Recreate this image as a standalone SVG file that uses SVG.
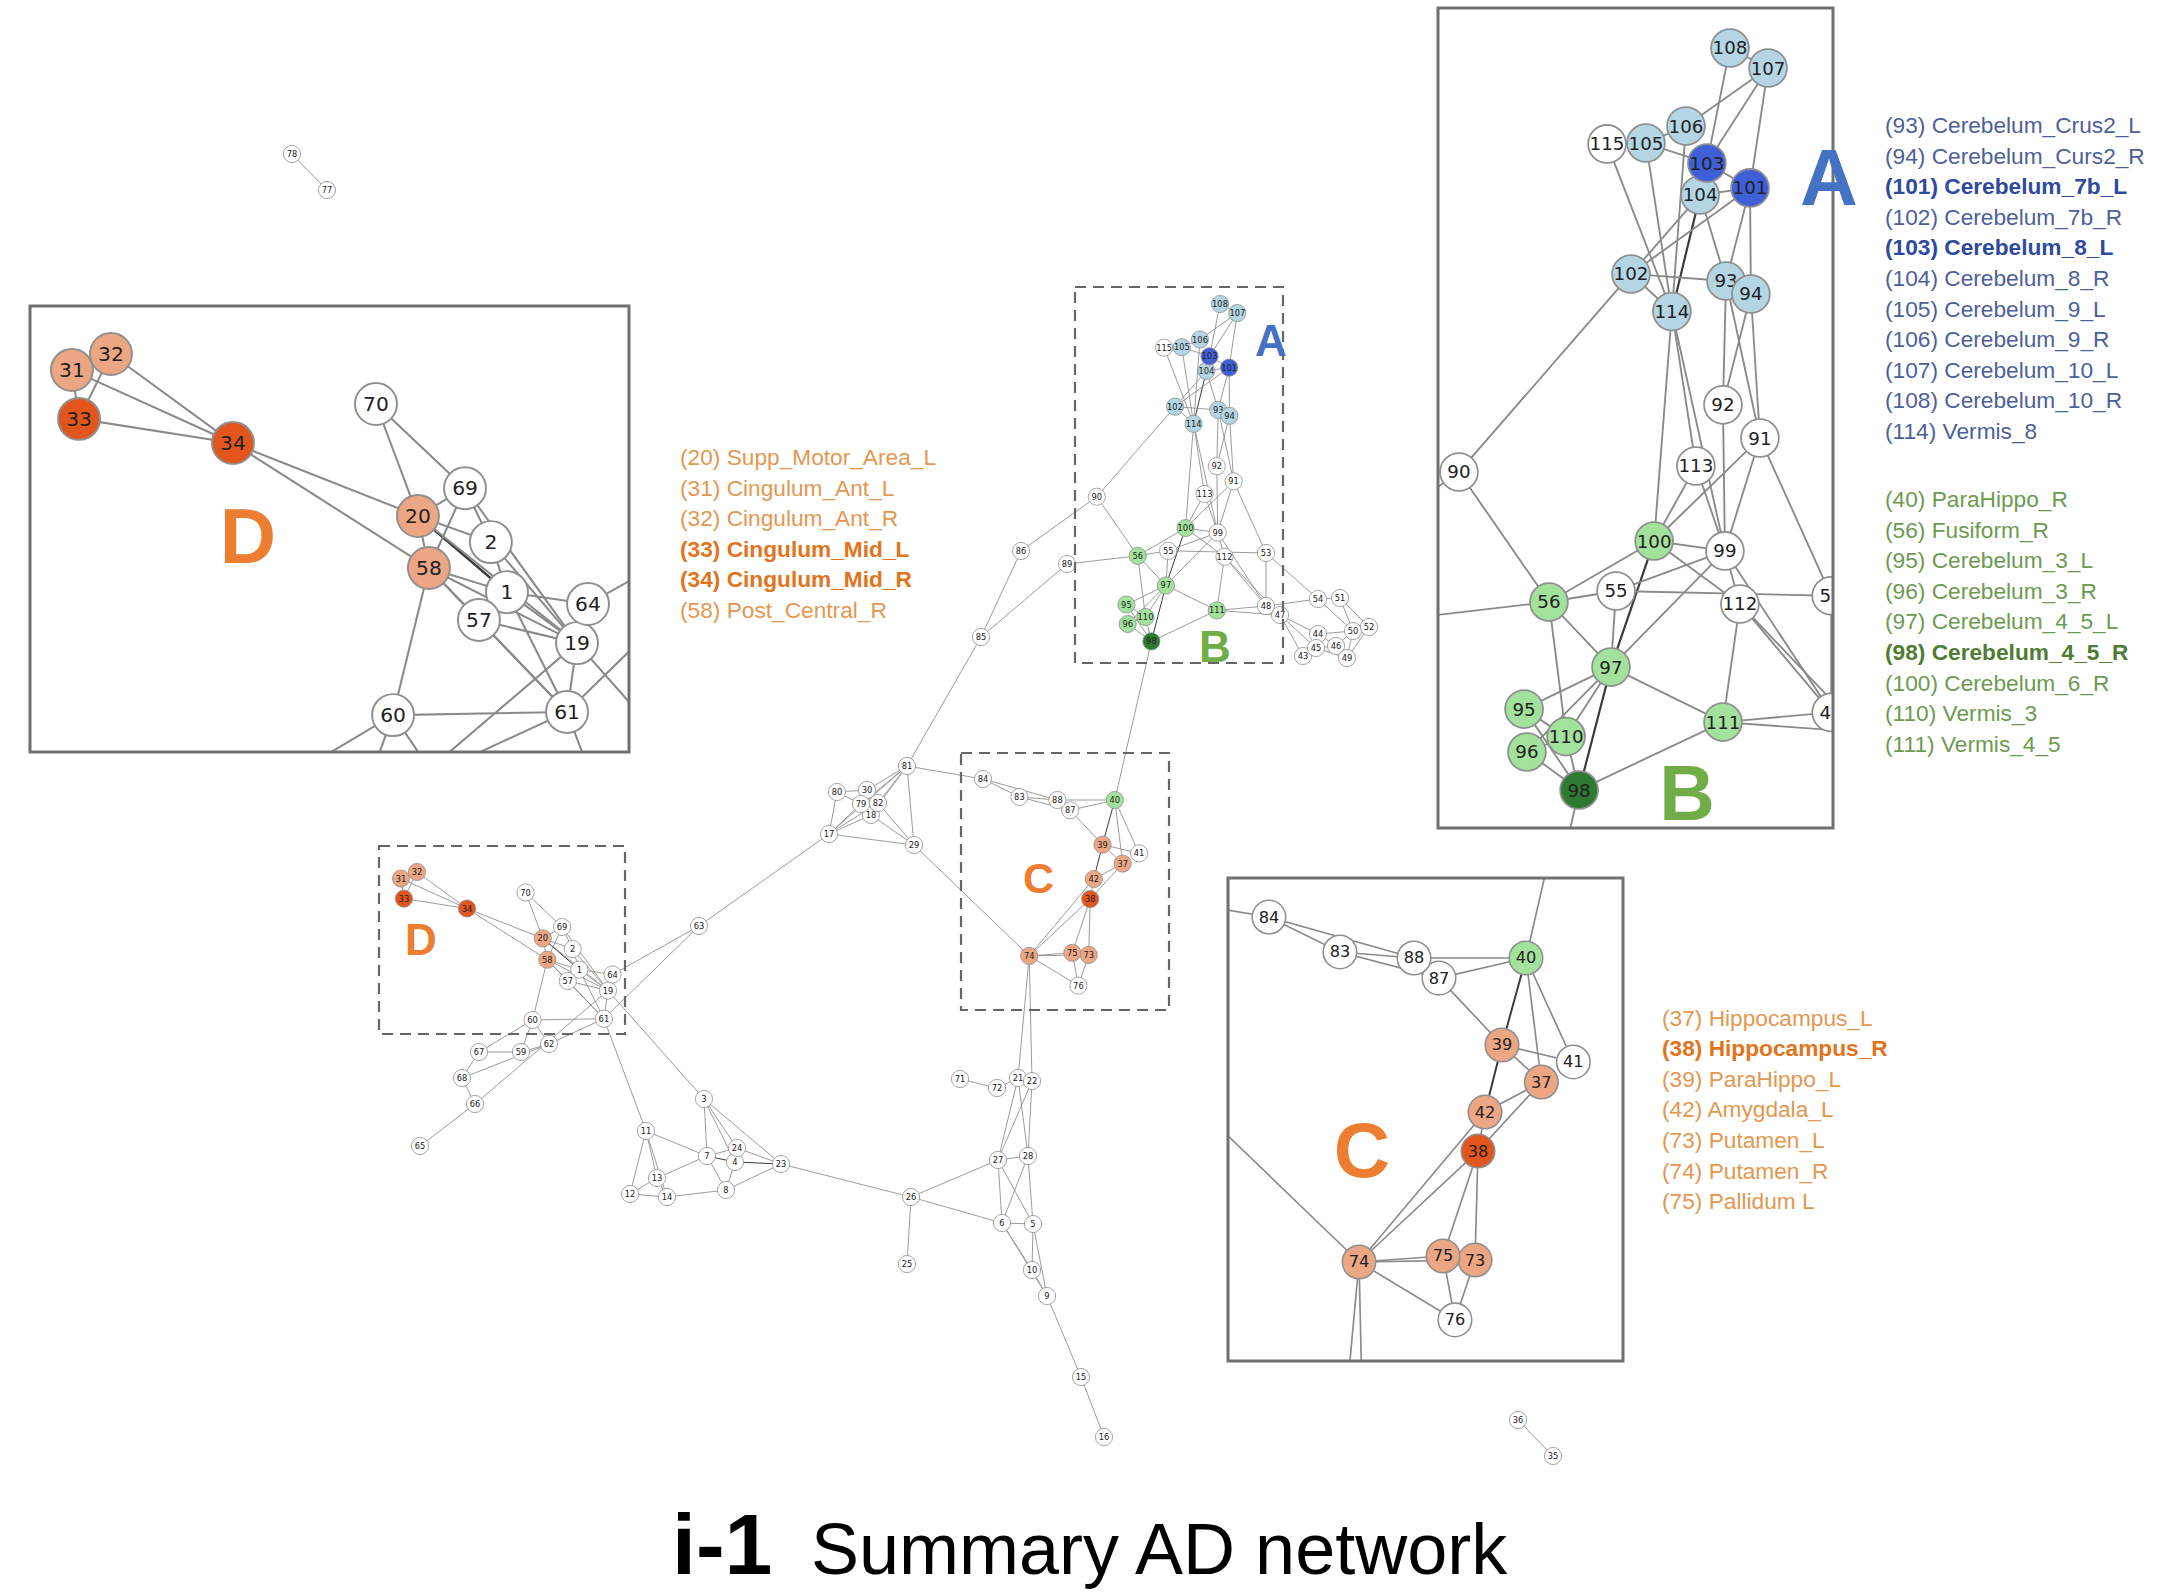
<svg xmlns="http://www.w3.org/2000/svg" xmlns:xlink="http://www.w3.org/1999/xlink" width="2180" height="1594" viewBox="0 0 2180 1594">
<style>
.e line{stroke:#8a8a8a;stroke-width:0.85}
.e line.d{stroke:#3a3a3a;stroke-width:1}
.node circle{stroke:#8f8f8f;stroke-width:0.8}
.node text{font-family:"DejaVu Sans",sans-serif;font-size:8.3px;text-anchor:middle;dominant-baseline:central;fill:#222}
.w{fill:#fff}.lb{fill:#b3d5e4}.b{fill:#3f5fd8}.lg{fill:#a2e29c}.g{fill:#2f7a33}.lo{fill:#eca684}.o{fill:#e2561e}
.dash{fill:none;stroke:#666;stroke-width:2.2;stroke-dasharray:11 7}
.frame{fill:none;stroke:#707070;stroke-width:3}
.big{font-family:"Liberation Sans",Arial,sans-serif;font-weight:bold;text-anchor:middle}
.lst{font-family:"Liberation Sans",Arial,sans-serif;font-size:22.7px}
.ob{fill:#e4974f}.obb{fill:#e2741c;font-weight:bold}
.bl{fill:#4d5f9a}.blb{fill:#2e4a9e;font-weight:bold}
.gl{fill:#6c9a50}.glb{fill:#4d7c32;font-weight:bold}
</style>
<defs>
<clipPath id="cAB"><rect x="1438" y="8" width="395" height="820"/></clipPath>
<clipPath id="cD"><rect x="30" y="306" width="599" height="446"/></clipPath>
<clipPath id="cC"><rect x="1228" y="878" width="395" height="483"/></clipPath>
</defs>
<rect x="0" y="0" width="2180" height="1594" fill="#fff"/>

<g id="network">
<g id="connectors" class="e">
<line x1="1220" y1="304" x2="1237.3" y2="313.1"/>
<line x1="1220" y1="304" x2="1209.5" y2="356.3"/>
<line x1="1237.3" y1="313.1" x2="1200" y2="339.5"/>
<line x1="1237.3" y1="313.1" x2="1209.5" y2="356.3"/>
<line x1="1237.3" y1="313.1" x2="1229.1" y2="367.6"/>
<line x1="1200" y1="339.5" x2="1181.8" y2="347.2"/>
<line x1="1200" y1="339.5" x2="1193.6" y2="423.8"/>
<line x1="1164.1" y1="347.6" x2="1181.8" y2="347.2"/>
<line x1="1164.1" y1="347.6" x2="1193.6" y2="423.8"/>
<line x1="1181.8" y1="347.2" x2="1209.5" y2="356.3"/>
<line x1="1181.8" y1="347.2" x2="1193.6" y2="423.8"/>
<line x1="1209.5" y1="356.3" x2="1206.4" y2="370.8"/>
<line x1="1209.5" y1="356.3" x2="1229.1" y2="367.6"/>
<line x1="1206.4" y1="370.8" x2="1229.1" y2="367.6"/>
<line x1="1206.4" y1="370.8" x2="1175" y2="406.7"/>
<line class="d" x1="1206.4" y1="370.8" x2="1193.6" y2="423.8"/>
<line x1="1206.4" y1="370.8" x2="1218.2" y2="409.9"/>
<line x1="1229.1" y1="367.6" x2="1175" y2="406.7"/>
<line x1="1229.1" y1="367.6" x2="1218.2" y2="409.9"/>
<line x1="1229.1" y1="367.6" x2="1229.5" y2="415.8"/>
<line x1="1175" y1="406.7" x2="1218.2" y2="409.9"/>
<line x1="1175" y1="406.7" x2="1193.6" y2="423.8"/>
<line x1="1175" y1="406.7" x2="1096.8" y2="496.7"/>
<line x1="1218.2" y1="409.9" x2="1229.5" y2="415.8"/>
<line x1="1218.2" y1="409.9" x2="1216.8" y2="466.2"/>
<line x1="1218.2" y1="409.9" x2="1233.6" y2="481.3"/>
<line x1="1229.5" y1="415.8" x2="1216.8" y2="466.2"/>
<line x1="1229.5" y1="415.8" x2="1233.6" y2="481.3"/>
<line x1="1193.6" y1="423.8" x2="1204.5" y2="494"/>
<line x1="1193.6" y1="423.8" x2="1185.5" y2="528.1"/>
<line x1="1193.6" y1="423.8" x2="1217.7" y2="532.6"/>
<line x1="1216.8" y1="466.2" x2="1217.7" y2="532.6"/>
<line x1="1233.6" y1="481.3" x2="1185.5" y2="528.1"/>
<line x1="1233.6" y1="481.3" x2="1217.7" y2="532.6"/>
<line x1="1233.6" y1="481.3" x2="1266" y2="553"/>
<line x1="1204.5" y1="494" x2="1185.5" y2="528.1"/>
<line x1="1204.5" y1="494" x2="1217.7" y2="532.6"/>
<line x1="1185.5" y1="528.1" x2="1217.7" y2="532.6"/>
<line x1="1185.5" y1="528.1" x2="1137.7" y2="555.8"/>
<line class="d" x1="1185.5" y1="528.1" x2="1165.9" y2="585.4"/>
<line x1="1185.5" y1="528.1" x2="1224.5" y2="556.7"/>
<line x1="1217.7" y1="532.6" x2="1168.2" y2="550.8"/>
<line x1="1217.7" y1="532.6" x2="1165.9" y2="585.4"/>
<line x1="1217.7" y1="532.6" x2="1224.5" y2="556.7"/>
<line x1="1217.7" y1="532.6" x2="1266" y2="606"/>
<line x1="1168.2" y1="550.8" x2="1137.7" y2="555.8"/>
<line x1="1168.2" y1="550.8" x2="1165.9" y2="585.4"/>
<line x1="1168.2" y1="550.8" x2="1266" y2="553"/>
<line x1="1137.7" y1="555.8" x2="1165.9" y2="585.4"/>
<line x1="1137.7" y1="555.8" x2="1145.5" y2="617"/>
<line x1="1137.7" y1="555.8" x2="1096.8" y2="496.7"/>
<line x1="1137.7" y1="555.8" x2="1067" y2="564"/>
<line x1="1224.5" y1="556.7" x2="1216.8" y2="610.4"/>
<line x1="1224.5" y1="556.7" x2="1266" y2="606"/>
<line x1="1224.5" y1="556.7" x2="1280" y2="615"/>
<line x1="1165.9" y1="585.4" x2="1126.4" y2="604.5"/>
<line x1="1165.9" y1="585.4" x2="1145.5" y2="617"/>
<line x1="1165.9" y1="585.4" x2="1127.7" y2="624"/>
<line class="d" x1="1165.9" y1="585.4" x2="1151.4" y2="641.3"/>
<line x1="1165.9" y1="585.4" x2="1216.8" y2="610.4"/>
<line x1="1126.4" y1="604.5" x2="1145.5" y2="617"/>
<line x1="1126.4" y1="604.5" x2="1151.4" y2="641.3"/>
<line x1="1127.7" y1="624" x2="1151.4" y2="641.3"/>
<line x1="1145.5" y1="617" x2="1151.4" y2="641.3"/>
<line x1="1127.7" y1="624" x2="1145.5" y2="617"/>
<line x1="1216.8" y1="610.4" x2="1266" y2="606"/>
<line x1="1216.8" y1="610.4" x2="1280" y2="615"/>
<line x1="1216.8" y1="610.4" x2="1151.4" y2="641.3"/>
<line x1="1151.4" y1="641.3" x2="1114.8" y2="800"/>
<line x1="1266" y1="553" x2="1318" y2="599"/>
<line x1="1266" y1="553" x2="1266" y2="606"/>
<line x1="1266" y1="606" x2="1318" y2="599"/>
<line x1="1266" y1="606" x2="1280" y2="615"/>
<line x1="1280" y1="615" x2="1318" y2="634"/>
<line x1="1280" y1="615" x2="1303" y2="656"/>
<line x1="1280" y1="615" x2="1316" y2="648"/>
<line x1="1318" y1="599" x2="1340" y2="598"/>
<line x1="1318" y1="599" x2="1353" y2="631"/>
<line x1="1340" y1="598" x2="1353" y2="631"/>
<line x1="1340" y1="598" x2="1369" y2="627"/>
<line x1="1353" y1="631" x2="1369" y2="627"/>
<line x1="1353" y1="631" x2="1336" y2="646"/>
<line x1="1353" y1="631" x2="1347" y2="658"/>
<line x1="1369" y1="627" x2="1347" y2="658"/>
<line x1="1336" y1="646" x2="1316" y2="648"/>
<line x1="1336" y1="646" x2="1318" y2="634"/>
<line x1="1318" y1="634" x2="1316" y2="648"/>
<line x1="1303" y1="656" x2="1316" y2="648"/>
<line x1="1316" y1="648" x2="1347" y2="658"/>
<line x1="1318" y1="634" x2="1353" y2="631"/>
<line x1="1067" y1="564" x2="981" y2="637"/>
<line x1="1021" y1="551" x2="981" y2="637"/>
<line x1="1021" y1="551" x2="1096.8" y2="496.7"/>
<line x1="981" y1="637" x2="907" y2="766"/>
<line x1="907" y1="766" x2="983" y2="779"/>
<line x1="907" y1="766" x2="914" y2="845"/>
<line x1="907" y1="766" x2="867" y2="790"/>
<line x1="907" y1="766" x2="861" y2="804"/>
<line x1="907" y1="766" x2="878" y2="803"/>
<line x1="907" y1="766" x2="871" y2="815"/>
<line x1="907" y1="766" x2="829" y2="834"/>
<line x1="837" y1="792" x2="867" y2="790"/>
<line x1="837" y1="792" x2="829" y2="834"/>
<line x1="837" y1="792" x2="861" y2="804"/>
<line x1="867" y1="790" x2="878" y2="803"/>
<line x1="867" y1="790" x2="861" y2="804"/>
<line x1="861" y1="804" x2="878" y2="803"/>
<line x1="861" y1="804" x2="871" y2="815"/>
<line x1="861" y1="804" x2="829" y2="834"/>
<line x1="878" y1="803" x2="871" y2="815"/>
<line x1="878" y1="803" x2="914" y2="845"/>
<line x1="878" y1="803" x2="829" y2="834"/>
<line x1="871" y1="815" x2="914" y2="845"/>
<line x1="871" y1="815" x2="829" y2="834"/>
<line x1="829" y1="834" x2="914" y2="845"/>
<line x1="829" y1="834" x2="699" y2="926"/>
<line x1="914" y1="845" x2="1029.2" y2="955.9"/>
<line x1="983" y1="779" x2="1019.4" y2="796.9"/>
<line x1="983" y1="779" x2="1057.4" y2="800"/>
<line x1="1019.4" y1="796.9" x2="1057.4" y2="800"/>
<line x1="1019.4" y1="796.9" x2="1070.2" y2="810.3"/>
<line x1="1057.4" y1="800" x2="1114.8" y2="800"/>
<line x1="1070.2" y1="810.3" x2="1114.8" y2="800"/>
<line x1="1070.2" y1="810.3" x2="1102.5" y2="844.6"/>
<line class="d" x1="1114.8" y1="800" x2="1102.5" y2="844.6"/>
<line x1="1114.8" y1="800" x2="1122.7" y2="863.6"/>
<line x1="1114.8" y1="800" x2="1139.1" y2="853.3"/>
<line x1="1102.5" y1="844.6" x2="1139.1" y2="853.3"/>
<line x1="1102.5" y1="844.6" x2="1122.7" y2="863.6"/>
<line class="d" x1="1102.5" y1="844.6" x2="1093.8" y2="879"/>
<line x1="1093.8" y1="879" x2="1122.7" y2="863.6"/>
<line x1="1122.7" y1="863.6" x2="1090.2" y2="899"/>
<line x1="1093.8" y1="879" x2="1090.2" y2="899"/>
<line x1="1090.2" y1="899" x2="1029.2" y2="955.9"/>
<line x1="1093.8" y1="879" x2="1029.2" y2="955.9"/>
<line x1="1090.2" y1="899" x2="1072.3" y2="952.8"/>
<line x1="1090.2" y1="899" x2="1088.7" y2="954.9"/>
<line x1="1029.2" y1="955.9" x2="1072.3" y2="952.8"/>
<line x1="1029.2" y1="955.9" x2="1088.7" y2="954.9"/>
<line x1="1029.2" y1="955.9" x2="1078.4" y2="985.6"/>
<line x1="1072.3" y1="952.8" x2="1078.4" y2="985.6"/>
<line x1="1088.7" y1="954.9" x2="1078.4" y2="985.6"/>
<line x1="1029.2" y1="955.9" x2="1018" y2="1078"/>
<line x1="1029.2" y1="955.9" x2="1032" y2="1081"/>
<line x1="401" y1="878.6" x2="417" y2="872"/>
<line x1="401" y1="878.6" x2="403.9" y2="898.6"/>
<line x1="417" y1="872" x2="403.9" y2="898.6"/>
<line x1="401" y1="878.6" x2="467" y2="908.5"/>
<line x1="417" y1="872" x2="467" y2="908.5"/>
<line x1="403.9" y1="898.6" x2="467" y2="908.5"/>
<line x1="467" y1="908.5" x2="542.8" y2="938.4"/>
<line x1="467" y1="908.5" x2="547.3" y2="959.7"/>
<line x1="525.6" y1="892.5" x2="542.8" y2="938.4"/>
<line x1="525.6" y1="892.5" x2="562.1" y2="927"/>
<line x1="542.8" y1="938.4" x2="562.1" y2="927"/>
<line x1="542.8" y1="938.4" x2="572.7" y2="949.1"/>
<line x1="542.8" y1="938.4" x2="547.3" y2="959.7"/>
<line class="d" x1="542.8" y1="938.4" x2="579.3" y2="969.6"/>
<line x1="542.8" y1="938.4" x2="608" y2="990.5"/>
<line x1="562.1" y1="927" x2="547.3" y2="959.7"/>
<line x1="562.1" y1="927" x2="572.7" y2="949.1"/>
<line x1="562.1" y1="927" x2="608" y2="990.5"/>
<line x1="572.7" y1="949.1" x2="579.3" y2="969.6"/>
<line x1="572.7" y1="949.1" x2="608" y2="990.5"/>
<line x1="547.3" y1="959.7" x2="579.3" y2="969.6"/>
<line x1="547.3" y1="959.7" x2="567.8" y2="981"/>
<line x1="547.3" y1="959.7" x2="608" y2="990.5"/>
<line x1="547.3" y1="959.7" x2="532.6" y2="1020"/>
<line x1="547.3" y1="959.7" x2="603.9" y2="1018.7"/>
<line x1="579.3" y1="969.6" x2="567.8" y2="981"/>
<line x1="579.3" y1="969.6" x2="612.5" y2="974.5"/>
<line x1="579.3" y1="969.6" x2="608" y2="990.5"/>
<line x1="579.3" y1="969.6" x2="603.9" y2="1018.7"/>
<line x1="567.8" y1="981" x2="608" y2="990.5"/>
<line x1="567.8" y1="981" x2="603.9" y2="1018.7"/>
<line x1="608" y1="990.5" x2="603.9" y2="1018.7"/>
<line x1="532.6" y1="1020" x2="603.9" y2="1018.7"/>
<line x1="612.5" y1="974.5" x2="699" y2="926"/>
<line x1="603.9" y1="1018.7" x2="699" y2="926"/>
<line x1="608" y1="990.5" x2="704" y2="1099"/>
<line x1="603.9" y1="1018.7" x2="646" y2="1131"/>
<line x1="603.9" y1="1018.7" x2="549" y2="1044"/>
<line x1="608" y1="990.5" x2="475" y2="1104"/>
<line x1="532.6" y1="1020" x2="479" y2="1052"/>
<line x1="532.6" y1="1020" x2="521" y2="1052"/>
<line x1="532.6" y1="1020" x2="549" y2="1044"/>
<line x1="479" y1="1052" x2="521" y2="1052"/>
<line x1="479" y1="1052" x2="462" y2="1078"/>
<line x1="462" y1="1078" x2="475" y2="1104"/>
<line x1="475" y1="1104" x2="420" y2="1146"/>
<line x1="521" y1="1052" x2="549" y2="1044"/>
<line x1="462" y1="1078" x2="549" y2="1044"/>
<line x1="646" y1="1131" x2="630" y2="1194"/>
<line x1="646" y1="1131" x2="657" y2="1178"/>
<line x1="646" y1="1131" x2="667" y2="1197"/>
<line x1="646" y1="1131" x2="707" y2="1156"/>
<line x1="630" y1="1194" x2="657" y2="1178"/>
<line x1="630" y1="1194" x2="667" y2="1197"/>
<line x1="657" y1="1178" x2="667" y2="1197"/>
<line x1="657" y1="1178" x2="707" y2="1156"/>
<line x1="667" y1="1197" x2="726" y2="1190"/>
<line x1="704" y1="1099" x2="707" y2="1156"/>
<line x1="704" y1="1099" x2="737" y2="1148"/>
<line x1="704" y1="1099" x2="735" y2="1162"/>
<line x1="704" y1="1099" x2="781" y2="1164"/>
<line class="d" x1="707" y1="1156" x2="735" y2="1162"/>
<line x1="707" y1="1156" x2="737" y2="1148"/>
<line x1="707" y1="1156" x2="726" y2="1190"/>
<line x1="735" y1="1162" x2="737" y2="1148"/>
<line class="d" x1="735" y1="1162" x2="781" y2="1164"/>
<line x1="735" y1="1162" x2="726" y2="1190"/>
<line x1="737" y1="1148" x2="781" y2="1164"/>
<line x1="726" y1="1190" x2="781" y2="1164"/>
<line x1="781" y1="1164" x2="911" y2="1197"/>
<line x1="960" y1="1079" x2="997" y2="1088"/>
<line x1="997" y1="1088" x2="1018" y2="1078"/>
<line x1="1018" y1="1078" x2="1032" y2="1081"/>
<line x1="1018" y1="1078" x2="998" y2="1160"/>
<line x1="1032" y1="1081" x2="998" y2="1160"/>
<line x1="1018" y1="1078" x2="1028" y2="1156"/>
<line x1="1032" y1="1081" x2="1028" y2="1156"/>
<line x1="998" y1="1160" x2="1028" y2="1156"/>
<line x1="998" y1="1160" x2="911" y2="1197"/>
<line x1="998" y1="1160" x2="1002" y2="1223"/>
<line x1="998" y1="1160" x2="1033" y2="1224"/>
<line x1="1028" y1="1156" x2="1002" y2="1223"/>
<line x1="1028" y1="1156" x2="1033" y2="1224"/>
<line x1="911" y1="1197" x2="1002" y2="1223"/>
<line x1="911" y1="1197" x2="907" y2="1264"/>
<line x1="1002" y1="1223" x2="1033" y2="1224"/>
<line x1="1002" y1="1223" x2="1032" y2="1270"/>
<line x1="1002" y1="1223" x2="1047" y2="1296"/>
<line x1="1033" y1="1224" x2="1032" y2="1270"/>
<line x1="1033" y1="1224" x2="1047" y2="1296"/>
<line x1="1032" y1="1270" x2="1047" y2="1296"/>
<line x1="1047" y1="1296" x2="1081" y2="1377"/>
<line x1="1081" y1="1377" x2="1104" y2="1437"/>
<line x1="292" y1="154" x2="327" y2="190"/>
<line x1="1518" y1="1420" x2="1553" y2="1456"/>
</g>
<g id="nodes">
<g id="n1" class="node"><circle class="w" cx="579.3" cy="969.6" r="8.6"/><text x="579.3" y="969.6">1</text></g>
<g id="n2" class="node"><circle class="w" cx="572.7" cy="949.1" r="8.6"/><text x="572.7" y="949.1">2</text></g>
<g id="n3" class="node"><circle class="w" cx="704" cy="1099" r="8.6"/><text x="704" y="1099">3</text></g>
<g id="n4" class="node"><circle class="w" cx="735" cy="1162" r="8.6"/><text x="735" y="1162">4</text></g>
<g id="n5" class="node"><circle class="w" cx="1033" cy="1224" r="8.6"/><text x="1033" y="1224">5</text></g>
<g id="n6" class="node"><circle class="w" cx="1002" cy="1223" r="8.6"/><text x="1002" y="1223">6</text></g>
<g id="n7" class="node"><circle class="w" cx="707" cy="1156" r="8.6"/><text x="707" y="1156">7</text></g>
<g id="n8" class="node"><circle class="w" cx="726" cy="1190" r="8.6"/><text x="726" y="1190">8</text></g>
<g id="n9" class="node"><circle class="w" cx="1047" cy="1296" r="8.6"/><text x="1047" y="1296">9</text></g>
<g id="n10" class="node"><circle class="w" cx="1032" cy="1270" r="8.6"/><text x="1032" y="1270">10</text></g>
<g id="n11" class="node"><circle class="w" cx="646" cy="1131" r="8.6"/><text x="646" y="1131">11</text></g>
<g id="n12" class="node"><circle class="w" cx="630" cy="1194" r="8.6"/><text x="630" y="1194">12</text></g>
<g id="n13" class="node"><circle class="w" cx="657" cy="1178" r="8.6"/><text x="657" y="1178">13</text></g>
<g id="n14" class="node"><circle class="w" cx="667" cy="1197" r="8.6"/><text x="667" y="1197">14</text></g>
<g id="n15" class="node"><circle class="w" cx="1081" cy="1377" r="8.6"/><text x="1081" y="1377">15</text></g>
<g id="n16" class="node"><circle class="w" cx="1104" cy="1437" r="8.6"/><text x="1104" y="1437">16</text></g>
<g id="n17" class="node"><circle class="w" cx="829" cy="834" r="8.6"/><text x="829" y="834">17</text></g>
<g id="n18" class="node"><circle class="w" cx="871" cy="815" r="8.6"/><text x="871" y="815">18</text></g>
<g id="n19" class="node"><circle class="w" cx="608" cy="990.5" r="8.6"/><text x="608" y="990.5">19</text></g>
<g id="n20" class="node"><circle class="lo" cx="542.8" cy="938.4" r="8.6"/><text x="542.8" y="938.4">20</text></g>
<g id="n21" class="node"><circle class="w" cx="1018" cy="1078" r="8.6"/><text x="1018" y="1078">21</text></g>
<g id="n22" class="node"><circle class="w" cx="1032" cy="1081" r="8.6"/><text x="1032" y="1081">22</text></g>
<g id="n23" class="node"><circle class="w" cx="781" cy="1164" r="8.6"/><text x="781" y="1164">23</text></g>
<g id="n24" class="node"><circle class="w" cx="737" cy="1148" r="8.6"/><text x="737" y="1148">24</text></g>
<g id="n25" class="node"><circle class="w" cx="907" cy="1264" r="8.6"/><text x="907" y="1264">25</text></g>
<g id="n26" class="node"><circle class="w" cx="911" cy="1197" r="8.6"/><text x="911" y="1197">26</text></g>
<g id="n27" class="node"><circle class="w" cx="998" cy="1160" r="8.6"/><text x="998" y="1160">27</text></g>
<g id="n28" class="node"><circle class="w" cx="1028" cy="1156" r="8.6"/><text x="1028" y="1156">28</text></g>
<g id="n29" class="node"><circle class="w" cx="914" cy="845" r="8.6"/><text x="914" y="845">29</text></g>
<g id="n30" class="node"><circle class="w" cx="867" cy="790" r="8.6"/><text x="867" y="790">30</text></g>
<g id="n31" class="node"><circle class="lo" cx="401" cy="878.6" r="8.6"/><text x="401" y="878.6">31</text></g>
<g id="n32" class="node"><circle class="lo" cx="417" cy="872" r="8.6"/><text x="417" y="872">32</text></g>
<g id="n33" class="node"><circle class="o" cx="403.9" cy="898.6" r="8.6"/><text x="403.9" y="898.6">33</text></g>
<g id="n34" class="node"><circle class="o" cx="467" cy="908.5" r="8.6"/><text x="467" y="908.5">34</text></g>
<g id="n35" class="node"><circle class="w" cx="1553" cy="1456" r="8.6"/><text x="1553" y="1456">35</text></g>
<g id="n36" class="node"><circle class="w" cx="1518" cy="1420" r="8.6"/><text x="1518" y="1420">36</text></g>
<g id="n37" class="node"><circle class="lo" cx="1122.7" cy="863.6" r="8.6"/><text x="1122.7" y="863.6">37</text></g>
<g id="n38" class="node"><circle class="o" cx="1090.2" cy="899" r="8.6"/><text x="1090.2" y="899">38</text></g>
<g id="n39" class="node"><circle class="lo" cx="1102.5" cy="844.6" r="8.6"/><text x="1102.5" y="844.6">39</text></g>
<g id="n40" class="node"><circle class="lg" cx="1114.8" cy="800" r="8.6"/><text x="1114.8" y="800">40</text></g>
<g id="n41" class="node"><circle class="w" cx="1139.1" cy="853.3" r="8.6"/><text x="1139.1" y="853.3">41</text></g>
<g id="n42" class="node"><circle class="lo" cx="1093.8" cy="879" r="8.6"/><text x="1093.8" y="879">42</text></g>
<g id="n43" class="node"><circle class="w" cx="1303" cy="656" r="8.6"/><text x="1303" y="656">43</text></g>
<g id="n44" class="node"><circle class="w" cx="1318" cy="634" r="8.6"/><text x="1318" y="634">44</text></g>
<g id="n45" class="node"><circle class="w" cx="1316" cy="648" r="8.6"/><text x="1316" y="648">45</text></g>
<g id="n46" class="node"><circle class="w" cx="1336" cy="646" r="8.6"/><text x="1336" y="646">46</text></g>
<g id="n47" class="node"><circle class="w" cx="1280" cy="615" r="8.6"/><text x="1280" y="615">47</text></g>
<g id="n48" class="node"><circle class="w" cx="1266" cy="606" r="8.6"/><text x="1266" y="606">48</text></g>
<g id="n49" class="node"><circle class="w" cx="1347" cy="658" r="8.6"/><text x="1347" y="658">49</text></g>
<g id="n50" class="node"><circle class="w" cx="1353" cy="631" r="8.6"/><text x="1353" y="631">50</text></g>
<g id="n51" class="node"><circle class="w" cx="1340" cy="598" r="8.6"/><text x="1340" y="598">51</text></g>
<g id="n52" class="node"><circle class="w" cx="1369" cy="627" r="8.6"/><text x="1369" y="627">52</text></g>
<g id="n53" class="node"><circle class="w" cx="1266" cy="553" r="8.6"/><text x="1266" y="553">53</text></g>
<g id="n54" class="node"><circle class="w" cx="1318" cy="599" r="8.6"/><text x="1318" y="599">54</text></g>
<g id="n55" class="node"><circle class="w" cx="1168.2" cy="550.8" r="8.6"/><text x="1168.2" y="550.8">55</text></g>
<g id="n56" class="node"><circle class="lg" cx="1137.7" cy="555.8" r="8.6"/><text x="1137.7" y="555.8">56</text></g>
<g id="n57" class="node"><circle class="w" cx="567.8" cy="981" r="8.6"/><text x="567.8" y="981">57</text></g>
<g id="n58" class="node"><circle class="lo" cx="547.3" cy="959.7" r="8.6"/><text x="547.3" y="959.7">58</text></g>
<g id="n59" class="node"><circle class="w" cx="521" cy="1052" r="8.6"/><text x="521" y="1052">59</text></g>
<g id="n60" class="node"><circle class="w" cx="532.6" cy="1020" r="8.6"/><text x="532.6" y="1020">60</text></g>
<g id="n61" class="node"><circle class="w" cx="603.9" cy="1018.7" r="8.6"/><text x="603.9" y="1018.7">61</text></g>
<g id="n62" class="node"><circle class="w" cx="549" cy="1044" r="8.6"/><text x="549" y="1044">62</text></g>
<g id="n63" class="node"><circle class="w" cx="699" cy="926" r="8.6"/><text x="699" y="926">63</text></g>
<g id="n64" class="node"><circle class="w" cx="612.5" cy="974.5" r="8.6"/><text x="612.5" y="974.5">64</text></g>
<g id="n65" class="node"><circle class="w" cx="420" cy="1146" r="8.6"/><text x="420" y="1146">65</text></g>
<g id="n66" class="node"><circle class="w" cx="475" cy="1104" r="8.6"/><text x="475" y="1104">66</text></g>
<g id="n67" class="node"><circle class="w" cx="479" cy="1052" r="8.6"/><text x="479" y="1052">67</text></g>
<g id="n68" class="node"><circle class="w" cx="462" cy="1078" r="8.6"/><text x="462" y="1078">68</text></g>
<g id="n69" class="node"><circle class="w" cx="562.1" cy="927" r="8.6"/><text x="562.1" y="927">69</text></g>
<g id="n70" class="node"><circle class="w" cx="525.6" cy="892.5" r="8.6"/><text x="525.6" y="892.5">70</text></g>
<g id="n71" class="node"><circle class="w" cx="960" cy="1079" r="8.6"/><text x="960" y="1079">71</text></g>
<g id="n72" class="node"><circle class="w" cx="997" cy="1088" r="8.6"/><text x="997" y="1088">72</text></g>
<g id="n73" class="node"><circle class="lo" cx="1088.7" cy="954.9" r="8.6"/><text x="1088.7" y="954.9">73</text></g>
<g id="n74" class="node"><circle class="lo" cx="1029.2" cy="955.9" r="8.6"/><text x="1029.2" y="955.9">74</text></g>
<g id="n75" class="node"><circle class="lo" cx="1072.3" cy="952.8" r="8.6"/><text x="1072.3" y="952.8">75</text></g>
<g id="n76" class="node"><circle class="w" cx="1078.4" cy="985.6" r="8.6"/><text x="1078.4" y="985.6">76</text></g>
<g id="n77" class="node"><circle class="w" cx="327" cy="190" r="8.6"/><text x="327" y="190">77</text></g>
<g id="n78" class="node"><circle class="w" cx="292" cy="154" r="8.6"/><text x="292" y="154">78</text></g>
<g id="n79" class="node"><circle class="w" cx="861" cy="804" r="8.6"/><text x="861" y="804">79</text></g>
<g id="n80" class="node"><circle class="w" cx="837" cy="792" r="8.6"/><text x="837" y="792">80</text></g>
<g id="n81" class="node"><circle class="w" cx="907" cy="766" r="8.6"/><text x="907" y="766">81</text></g>
<g id="n82" class="node"><circle class="w" cx="878" cy="803" r="8.6"/><text x="878" y="803">82</text></g>
<g id="n83" class="node"><circle class="w" cx="1019.4" cy="796.9" r="8.6"/><text x="1019.4" y="796.9">83</text></g>
<g id="n84" class="node"><circle class="w" cx="983" cy="779" r="8.6"/><text x="983" y="779">84</text></g>
<g id="n85" class="node"><circle class="w" cx="981" cy="637" r="8.6"/><text x="981" y="637">85</text></g>
<g id="n86" class="node"><circle class="w" cx="1021" cy="551" r="8.6"/><text x="1021" y="551">86</text></g>
<g id="n87" class="node"><circle class="w" cx="1070.2" cy="810.3" r="8.6"/><text x="1070.2" y="810.3">87</text></g>
<g id="n88" class="node"><circle class="w" cx="1057.4" cy="800" r="8.6"/><text x="1057.4" y="800">88</text></g>
<g id="n89" class="node"><circle class="w" cx="1067" cy="564" r="8.6"/><text x="1067" y="564">89</text></g>
<g id="n90" class="node"><circle class="w" cx="1096.8" cy="496.7" r="8.6"/><text x="1096.8" y="496.7">90</text></g>
<g id="n91" class="node"><circle class="w" cx="1233.6" cy="481.3" r="8.6"/><text x="1233.6" y="481.3">91</text></g>
<g id="n92" class="node"><circle class="w" cx="1216.8" cy="466.2" r="8.6"/><text x="1216.8" y="466.2">92</text></g>
<g id="n93" class="node"><circle class="lb" cx="1218.2" cy="409.9" r="8.6"/><text x="1218.2" y="409.9">93</text></g>
<g id="n94" class="node"><circle class="lb" cx="1229.5" cy="415.8" r="8.6"/><text x="1229.5" y="415.8">94</text></g>
<g id="n95" class="node"><circle class="lg" cx="1126.4" cy="604.5" r="8.6"/><text x="1126.4" y="604.5">95</text></g>
<g id="n96" class="node"><circle class="lg" cx="1127.7" cy="624" r="8.6"/><text x="1127.7" y="624">96</text></g>
<g id="n97" class="node"><circle class="lg" cx="1165.9" cy="585.4" r="8.6"/><text x="1165.9" y="585.4">97</text></g>
<g id="n98" class="node"><circle class="g" cx="1151.4" cy="641.3" r="8.6"/><text x="1151.4" y="641.3">98</text></g>
<g id="n99" class="node"><circle class="w" cx="1217.7" cy="532.6" r="8.6"/><text x="1217.7" y="532.6">99</text></g>
<g id="n100" class="node"><circle class="lg" cx="1185.5" cy="528.1" r="8.6"/><text x="1185.5" y="528.1">100</text></g>
<g id="n102" class="node"><circle class="lb" cx="1175" cy="406.7" r="8.6"/><text x="1175" y="406.7">102</text></g>
<g id="n105" class="node"><circle class="lb" cx="1181.8" cy="347.2" r="8.6"/><text x="1181.8" y="347.2">105</text></g>
<g id="n115" class="node"><circle class="w" cx="1164.1" cy="347.6" r="8.6"/><text x="1164.1" y="347.6">115</text></g>
<g id="n106" class="node"><circle class="lb" cx="1200" cy="339.5" r="8.6"/><text x="1200" y="339.5">106</text></g>
<g id="n108" class="node"><circle class="lb" cx="1220" cy="304" r="8.6"/><text x="1220" y="304">108</text></g>
<g id="n107" class="node"><circle class="lb" cx="1237.3" cy="313.1" r="8.6"/><text x="1237.3" y="313.1">107</text></g>
<g id="n104" class="node"><circle class="lb" cx="1206.4" cy="370.8" r="8.6"/><text x="1206.4" y="370.8">104</text></g>
<g id="n103" class="node"><circle class="b" cx="1209.5" cy="356.3" r="8.6"/><text x="1209.5" y="356.3">103</text></g>
<g id="n101" class="node"><circle class="b" cx="1229.1" cy="367.6" r="8.6"/><text x="1229.1" y="367.6">101</text></g>
<g id="n110" class="node"><circle class="lg" cx="1145.5" cy="617" r="8.6"/><text x="1145.5" y="617">110</text></g>
<g id="n111" class="node"><circle class="lg" cx="1216.8" cy="610.4" r="8.6"/><text x="1216.8" y="610.4">111</text></g>
<g id="n112" class="node"><circle class="w" cx="1224.5" cy="556.7" r="8.6"/><text x="1224.5" y="556.7">112</text></g>
<g id="n113" class="node"><circle class="w" cx="1204.5" cy="494" r="8.6"/><text x="1204.5" y="494">113</text></g>
<g id="n114" class="node"><circle class="lb" cx="1193.6" cy="423.8" r="8.6"/><text x="1193.6" y="423.8">114</text></g>
</g>
</g>

<g id="dashed-boxes">
<rect class="dash" x="1075" y="287" width="208" height="376"/>
<rect class="dash" x="961" y="753" width="208" height="257"/>
<rect class="dash" x="379" y="846" width="246" height="188"/>
</g>
<g id="main-labels">
<text class="big" x="1271" y="356" font-size="44" fill="#4472c4">A</text>
<text class="big" x="1215" y="662" font-size="44" fill="#70ad47">B</text>
<text class="big" x="1038.5" y="893" font-size="43" fill="#ed7d31">C</text>
<text class="big" x="421" y="955" font-size="44" fill="#ed7d31">D</text>
</g>

<g id="inset-AB">
<rect x="1438" y="8" width="395" height="820" fill="#fff"/>
<g clip-path="url(#cAB)"><use xlink:href="#network" href="#network" transform="matrix(2.2 0 0 2.2 -954 -620.8)"/></g>
<rect class="frame" x="1438" y="8" width="395" height="820"/>
<text class="big" x="1829" y="205" font-size="80" fill="#4472c4">A</text>
<text class="big" x="1687" y="820" font-size="77" fill="#70ad47">B</text>
</g>
<g id="inset-D">
<rect x="30" y="306" width="599" height="446" fill="#fff"/>
<g clip-path="url(#cD)"><use xlink:href="#network" href="#network" transform="matrix(2.44 0 0 2.44 -906.5 -1773.7)"/></g>
<rect class="frame" x="30" y="306" width="599" height="446"/>
<text class="big" x="248" y="563" font-size="78" fill="#ed7d31">D</text>
</g>
<g id="inset-C">
<rect x="1228" y="878" width="395" height="483" fill="#fff"/>
<g clip-path="url(#cC)"><use xlink:href="#network" href="#network" transform="matrix(1.95 0 0 1.95 -647.9 -602)"/></g>
<rect class="frame" x="1228" y="878" width="395" height="483"/>
<text class="big" x="1362" y="1177" font-size="78" fill="#ed7d31">C</text>
</g>

<g id="legend-D" class="lst">
<text class="ob" x="680" y="465">(20) Supp_Motor_Area_L</text>
<text class="ob" x="680" y="496">(31) Cingulum_Ant_L</text>
<text class="ob" x="680" y="526">(32) Cingulum_Ant_R</text>
<text class="obb" x="680" y="557">(33) Cingulum_Mid_L</text>
<text class="obb" x="680" y="587">(34) Cingulum_Mid_R</text>
<text class="ob" x="680" y="618">(58) Post_Central_R</text>
</g>
<g id="legend-A" class="lst">
<text class="bl" x="1885" y="133">(93) Cerebelum_Crus2_L</text>
<text class="bl" x="1885" y="164">(94) Cerebelum_Curs2_R</text>
<text class="blb" x="1885" y="194">(101) Cerebelum_7b_L</text>
<text class="bl" x="1885" y="225">(102) Cerebelum_7b_R</text>
<text class="blb" x="1885" y="255">(103) Cerebelum_8_L</text>
<text class="bl" x="1885" y="286">(104) Cerebelum_8_R</text>
<text class="bl" x="1885" y="317">(105) Cerebelum_9_L</text>
<text class="bl" x="1885" y="347">(106) Cerebelum_9_R</text>
<text class="bl" x="1885" y="378">(107) Cerebelum_10_L</text>
<text class="bl" x="1885" y="408">(108) Cerebelum_10_R</text>
<text class="bl" x="1885" y="439">(114) Vermis_8</text>
</g>
<g id="legend-B" class="lst">
<text class="gl" x="1885" y="507">(40) ParaHippo_R</text>
<text class="gl" x="1885" y="538">(56) Fusiform_R</text>
<text class="gl" x="1885" y="568">(95) Cerebelum_3_L</text>
<text class="gl" x="1885" y="599">(96) Cerebelum_3_R</text>
<text class="gl" x="1885" y="629">(97) Cerebelum_4_5_L</text>
<text class="glb" x="1885" y="660">(98) Cerebelum_4_5_R</text>
<text class="gl" x="1885" y="691">(100) Cerebelum_6_R</text>
<text class="gl" x="1885" y="721">(110) Vermis_3</text>
<text class="gl" x="1885" y="752">(111) Vermis_4_5</text>
</g>
<g id="legend-C" class="lst">
<text class="ob" x="1662" y="1026">(37) Hippocampus_L</text>
<text class="obb" x="1662" y="1056">(38) Hippocampus_R</text>
<text class="ob" x="1662" y="1087">(39) ParaHippo_L</text>
<text class="ob" x="1662" y="1117">(42) Amygdala_L</text>
<text class="ob" x="1662" y="1148">(73) Putamen_L</text>
<text class="ob" x="1662" y="1179">(74) Putamen_R</text>
<text class="ob" x="1662" y="1209">(75) Pallidum L</text>
</g>

<g id="title" font-family="Liberation Sans, Arial, sans-serif" fill="#000">
<text x="672" y="1574" font-size="86" font-weight="bold">i-1</text>
<text x="811" y="1574" font-size="72">Summary AD network</text>
</g>
</svg>
